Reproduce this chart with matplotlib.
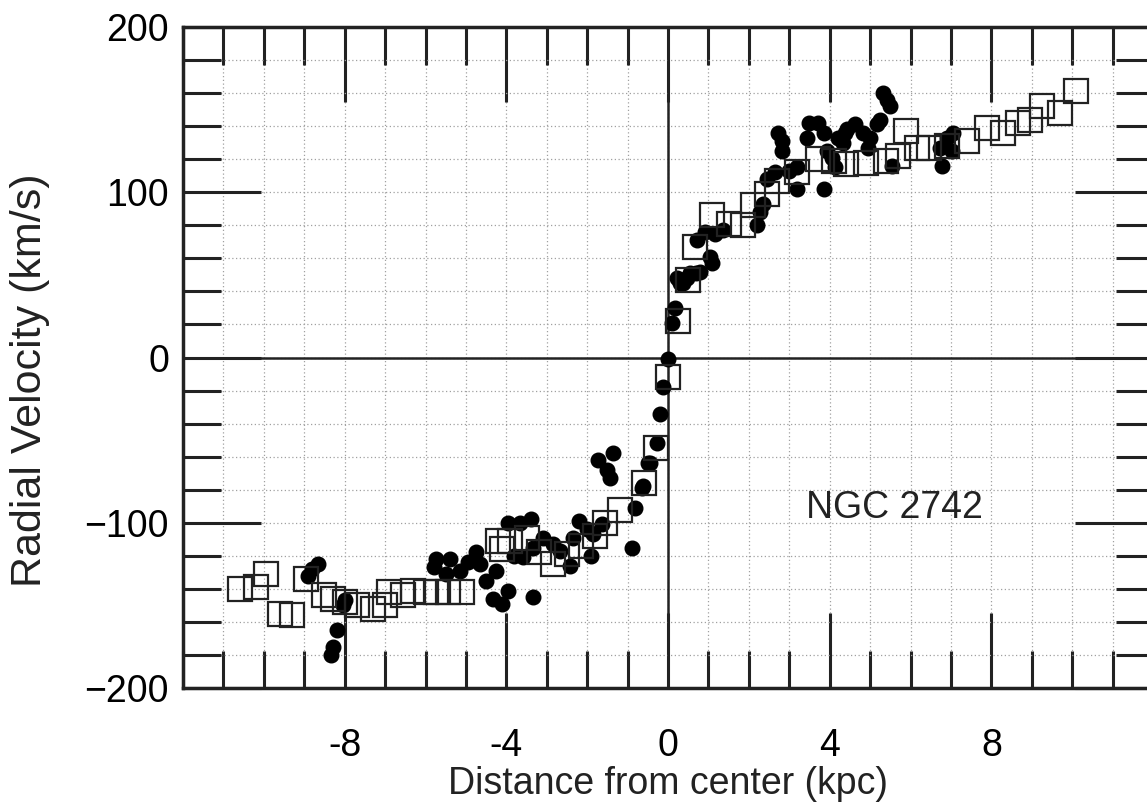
import matplotlib
matplotlib.use("Agg")
import matplotlib.pyplot as plt
from matplotlib.ticker import MultipleLocator

plt.rcParams['font.family'] = ['Liberation Sans', 'DejaVu Sans']

# Open squares (distance kpc, velocity km/s)
sq_x = [-10.6, -10.2, -9.95, -9.6, -9.3, -8.95, -8.5, -8.3, -8.0, -7.7, -7.3, -7.0,
        -6.9, -6.55, -6.3, -6.0, -5.75, -5.45, -5.1, -4.2, -4.1, -3.9, -3.5, -3.2,
        -2.85, -2.5, -2.15, -1.8, -1.55, -1.2, -0.6, -0.3, 0.0, 0.25, 0.5, 0.67,
        1.1, 1.5, 1.85, 2.1, 2.45, 2.7, 3.2, 3.7, 4.1, 4.4, 4.9, 5.4, 5.7, 5.9,
        6.15, 6.45, 6.9, 7.4, 7.9, 8.3, 8.65, 8.95, 9.25, 9.7, 10.1]
sq_y = [-140, -139, -131, -155, -156, -134, -144, -146, -148, -150, -152, -150,
        -142, -144, -141, -142, -142, -142, -142, -111, -116, -111, -109, -118,
        -125, -119, -114, -108, -100, -92, -76, -55, -12, 22, 47, 67,
        86, 81, 80, 92, 99, 107, 112, 120, 119, 117, 118, 119, 122, 137,
        127, 127, 128, 131, 139, 136, 142, 144, 152, 148, 161]

# Filled circles (distance kpc, velocity km/s)
dot_x = [-8.9, -8.8, -8.65, -8.05, -8.0, -8.2, -8.3, -8.35,
         -5.8, -5.75, -5.5, -5.4, -5.15, -4.95, -4.75, -4.65, -4.5, -4.33, -4.25,
         -4.1, -3.96, -3.95, -3.8, -3.65, -3.6, -3.4, -3.35, -3.35, -3.1, -2.85,
         -2.67, -2.43, -2.35, -2.2, -2.0, -1.9, -1.85, -1.73, -1.63, -1.5, -1.43,
         -1.35, -0.9, -0.82, -0.65, -0.62, -0.5, -0.45, -0.27, -0.2, -0.12, 0.0,
         0.1, 0.17, 0.22, 0.3, 0.37, 0.47, 0.55, 0.7, 0.72, 0.8, 0.92, 1.05, 1.1,
         1.16, 1.36, 2.2, 2.28, 2.35, 2.45, 2.65, 2.72, 2.82, 2.82, 3.0, 3.2, 3.2,
         3.45, 3.5, 3.7, 3.85, 3.85, 3.93, 4.05, 4.13, 4.2, 4.33, 4.38, 4.43, 4.63,
         4.83, 4.95, 5.0, 5.17, 5.25, 5.33, 5.42, 5.5, 5.55, 6.73, 6.78, 6.9,
         7.03, 7.05]
dot_y = [-132, -128, -125, -150, -147, -165, -175, -180,
         -127, -122, -131, -122, -129, -124, -118, -125, -135, -146, -129,
         -149, -141, -100, -120, -100, -121, -98, -115, -145, -109, -113,
         -117, -126, -109, -99, -104, -120, -107, -62, -101, -68, -73,
         -58, -115, -91, -79, -78, -64, -64, -52, -34, -18, -1,
         21, 30, 48, 45, 45, 48, 51, 51, 71, 52, 76, 61, 57,
         75, 77, 80, 88, 93, 108, 112, 136, 131, 125, 113, 102, 115,
         133, 142, 142, 136, 102, 125, 121, 115, 133, 130, 136, 138, 141,
         136, 127, 133, 141, 144, 160, 156, 152, 116, 127, 116, 133,
         125, 136]

label_text = "NGC 2742"
x_label = "Distance from center (kpc)"
y_label = "Radial Velocity (km/s)"

fig = plt.figure(figsize=(11.47, 8.09), dpi=100)
ax = fig.add_axes([183/1147, 121/809, 970/1147, 661/809])

ax.set_xlim(-12, 12)
ax.set_ylim(-200, 200)

ax.xaxis.set_major_locator(MultipleLocator(4))
ax.xaxis.set_minor_locator(MultipleLocator(1))
ax.yaxis.set_major_locator(MultipleLocator(100))
ax.yaxis.set_minor_locator(MultipleLocator(20))

ax.set_xticks([-8, -4, 0, 4, 8])
ax.set_xticklabels(["-8", "-4", "0", "4", "8"])

ax.grid(True, which='both', linestyle=(0, (1, 2)), color='#a0a0a0', linewidth=0.9)
ax.set_axisbelow(True)

ax.tick_params(which='both', direction='in', top=True, right=True,
               width=2.2, color='#222222', labelsize=27)
ax.tick_params(axis='x', which='major', length=54, pad=29)
ax.tick_params(axis='x', which='minor', length=27)
ax.tick_params(axis='y', which='major', length=56, pad=10)
ax.tick_params(axis='y', which='minor', length=27)

for s in ax.spines.values():
    s.set_linewidth(2.5)
    s.set_color('#222222')

ax.axhline(0, color='#222222', linewidth=1.8, zorder=2)
ax.axvline(0, color='#222222', linewidth=1.8, zorder=2)

ax.plot(dot_x, dot_y, 'o', color='black', markersize=10.5, zorder=3)
ax.plot(sq_x, sq_y, 's', markerfacecolor='none', markeredgecolor='#222222',
        markeredgewidth=1.6, markersize=17.5, zorder=4)

ax.text(5.6, -91, label_text, fontsize=27, ha='center', va='center', color='#222222')

fig.text(668/1147, 1 - 784/809, x_label, fontsize=27, ha='center', va='center',
         color='#222222')
fig.text(30/1147, 1 - 380/809, y_label, fontsize=31, ha='center', va='center',
         rotation=90, color='#222222')

fig.savefig("out.png", dpi=100)
